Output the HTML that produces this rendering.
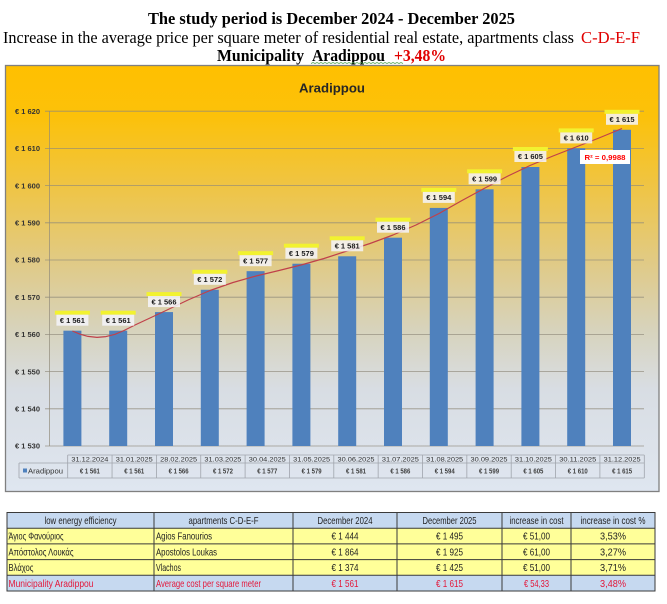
<!DOCTYPE html>
<html><head><meta charset="utf-8"><style>html,body{margin:0;padding:0;background:#fff}svg{display:block}</style></head>
<body>
<svg xmlns="http://www.w3.org/2000/svg" width="667" height="604" viewBox="0 0 667 604">
<defs>
<linearGradient id="bg" x1="0" y1="0" x2="0" y2="1">
<stop offset="0" stop-color="#FFC000"/>
<stop offset="0.12" stop-color="#FCC10A"/>
<stop offset="0.30" stop-color="#EEC54A"/>
<stop offset="0.48" stop-color="#DFCB8C"/>
<stop offset="0.62" stop-color="#D7D3BC"/>
<stop offset="0.76" stop-color="#D8DDE3"/>
<stop offset="1" stop-color="#DFE6F0"/>
</linearGradient>
</defs>
<rect width="667" height="604" fill="#fff"/>

<!-- Titles -->
<g font-family="'Liberation Serif', serif">
<text x="148" y="24" font-size="16.5" font-weight="bold" fill="#000" textLength="367" lengthAdjust="spacingAndGlyphs">The study period is December 2024 - December 2025</text>
<text x="3" y="43" font-size="17" fill="#000" textLength="571" lengthAdjust="spacingAndGlyphs">Increase in the average price per square meter of residential real estate, apartments class</text>
<text x="581" y="43" font-size="17" fill="#e00000" textLength="59" lengthAdjust="spacingAndGlyphs">C-D-E-F</text>
<text x="217" y="61" font-size="16.5" font-weight="bold" fill="#000" textLength="87" lengthAdjust="spacingAndGlyphs">Municipality</text>
<text x="312" y="61" font-size="16.5" font-weight="bold" fill="#000" textLength="73" lengthAdjust="spacingAndGlyphs">Aradippou</text>
<text x="394" y="61" font-size="16.5" font-weight="bold" fill="#e00000" textLength="52" lengthAdjust="spacingAndGlyphs">+3,48%</text>
</g>
<polyline points="311,63.5 313,62.5 315,63.5 317,62.5 319,63.5 321,62.5 323,63.5 325,62.5 327,63.5 329,62.5 331,63.5 333,62.5 335,63.5 337,62.5 339,63.5 341,62.5 343,63.5 345,62.5 347,63.5 349,62.5 351,63.5 353,62.5 355,63.5 357,62.5 359,63.5 361,62.5 363,63.5 365,62.5 367,63.5 369,62.5 371,63.5 373,62.5 375,63.5 377,62.5 379,63.5 381,62.5 383,63.5 385,62.5 387,63.5 389,62.5 391,63.5 393,62.5 395,63.5 397,62.5 399,63.5 401,62.5 403,63.5" fill="none" stroke="#4aa04a" stroke-width="0.7"/>

<!-- Chart frame -->
<rect x="5.5" y="65.5" width="653.5" height="426" fill="url(#bg)" stroke="#808080" stroke-width="1.3"/>
<text x="332" y="92.5" font-family="'Liberation Sans', sans-serif" font-size="13" font-weight="bold" fill="#262626" text-anchor="middle" textLength="66" lengthAdjust="spacingAndGlyphs">Aradippou</text>

<!-- Gridlines -->
<g stroke="#8f8a7a" stroke-width="0.8" stroke-opacity="0.85">
<line x1="45" y1="446" x2="644" y2="446"/>
<line x1="45" y1="408.8" x2="644" y2="408.8"/>
<line x1="45" y1="371.6" x2="644" y2="371.6"/>
<line x1="45" y1="334.4" x2="644" y2="334.4"/>
<line x1="45" y1="297.2" x2="644" y2="297.2"/>
<line x1="45" y1="260" x2="644" y2="260"/>
<line x1="45" y1="222.8" x2="644" y2="222.8"/>
<line x1="45" y1="185.6" x2="644" y2="185.6"/>
<line x1="45" y1="148.4" x2="644" y2="148.4"/>
<line x1="45" y1="111.2" x2="644" y2="111.2"/>
<line x1="49.5" y1="111.2" x2="49.5" y2="446"/>
</g>

<!-- Y labels -->
<g font-family="'Liberation Sans', sans-serif" font-size="7.5" font-weight="bold" fill="#333" text-anchor="end">
<text x="40" y="448.7" textLength="25" lengthAdjust="spacingAndGlyphs">€ 1 530</text>
<text x="40" y="411.5" textLength="25" lengthAdjust="spacingAndGlyphs">€ 1 540</text>
<text x="40" y="374.3" textLength="25" lengthAdjust="spacingAndGlyphs">€ 1 550</text>
<text x="40" y="337.1" textLength="25" lengthAdjust="spacingAndGlyphs">€ 1 560</text>
<text x="40" y="299.9" textLength="25" lengthAdjust="spacingAndGlyphs">€ 1 570</text>
<text x="40" y="262.7" textLength="25" lengthAdjust="spacingAndGlyphs">€ 1 580</text>
<text x="40" y="225.5" textLength="25" lengthAdjust="spacingAndGlyphs">€ 1 590</text>
<text x="40" y="188.3" textLength="25" lengthAdjust="spacingAndGlyphs">€ 1 600</text>
<text x="40" y="151.1" textLength="25" lengthAdjust="spacingAndGlyphs">€ 1 610</text>
<text x="40" y="113.9" textLength="25" lengthAdjust="spacingAndGlyphs">€ 1 620</text>
</g>

<!-- Bars -->
<g fill="#4F81BD">
<rect x="63.4" y="330.68" width="18" height="115.32"/>
<rect x="109.2" y="330.68" width="18" height="115.32"/>
<rect x="155.0" y="312.08" width="18" height="133.92"/>
<rect x="200.8" y="289.76" width="18" height="156.24"/>
<rect x="246.6" y="271.16" width="18" height="174.84"/>
<rect x="292.4" y="263.72" width="18" height="182.28"/>
<rect x="338.2" y="256.28" width="18" height="189.72"/>
<rect x="384.0" y="237.68" width="18" height="208.32"/>
<rect x="429.8" y="207.92" width="18" height="238.08"/>
<rect x="475.6" y="189.32" width="18" height="256.68"/>
<rect x="521.4" y="167" width="18" height="279"/>
<rect x="567.2" y="148.4" width="18" height="297.6"/>
<rect x="613.0" y="129.8" width="18" height="316.2"/>
</g>

<!-- Trendline -->
<polyline fill="none" stroke="#c0404a" stroke-width="1.2" stroke-linejoin="round" points="72.4,331 80,334.2 88,336.4 97,337.4 106,336.6 115,334.3 124,330.5 135,325 150,318 166,310.5 188,300 210,290.5 233,282.5 256,276 279,270.5 301,265 324,258.5 347,251 370,243.5 393,235 416,225 439,213.5 462,200.5 485,188 508,176 530,165.5 553,156 576,147 599,138 622,128.5"/>

<!-- Data labels -->
<g>
<g fill="#f2f230">
<rect x="54.9" y="310.7" width="35" height="4"/>
<rect x="100.7" y="310.7" width="35" height="4"/>
<rect x="146.5" y="292.1" width="35" height="4"/>
<rect x="192.3" y="269.8" width="35" height="4"/>
<rect x="238.1" y="251.2" width="35" height="4"/>
<rect x="283.9" y="243.7" width="35" height="4"/>
<rect x="329.7" y="236.3" width="35" height="4"/>
<rect x="375.5" y="217.7" width="35" height="4"/>
<rect x="421.3" y="187.9" width="35" height="4"/>
<rect x="467.1" y="169.3" width="35" height="4"/>
<rect x="512.9" y="147" width="35" height="4"/>
<rect x="558.7" y="128.4" width="35" height="4"/>
<rect x="604.5" y="109.8" width="35" height="4"/>
</g>
<g fill="#f4f5fa" fill-opacity="0.85">
<rect x="56.4" y="314.7" width="32" height="11"/>
<rect x="102.2" y="314.7" width="32" height="11"/>
<rect x="148.0" y="296.1" width="32" height="11"/>
<rect x="193.8" y="273.8" width="32" height="11"/>
<rect x="239.6" y="255.2" width="32" height="11"/>
<rect x="285.4" y="247.7" width="32" height="11"/>
<rect x="331.2" y="240.3" width="32" height="11"/>
<rect x="377.0" y="221.7" width="32" height="11"/>
<rect x="422.8" y="191.9" width="32" height="11"/>
<rect x="468.6" y="173.3" width="32" height="11"/>
<rect x="514.4" y="151" width="32" height="11"/>
<rect x="560.2" y="132.4" width="32" height="11"/>
<rect x="606.0" y="113.8" width="32" height="11"/>
</g>
<g font-family="'Liberation Sans', sans-serif" font-size="7.5" font-weight="bold" fill="#1a1a1a" text-anchor="middle">
<text x="72.4" y="322.9" textLength="25" lengthAdjust="spacingAndGlyphs">€ 1 561</text>
<text x="118.2" y="322.9" textLength="25" lengthAdjust="spacingAndGlyphs">€ 1 561</text>
<text x="164.0" y="304.3" textLength="25" lengthAdjust="spacingAndGlyphs">€ 1 566</text>
<text x="209.8" y="282.0" textLength="25" lengthAdjust="spacingAndGlyphs">€ 1 572</text>
<text x="255.6" y="263.4" textLength="25" lengthAdjust="spacingAndGlyphs">€ 1 577</text>
<text x="301.4" y="255.9" textLength="25" lengthAdjust="spacingAndGlyphs">€ 1 579</text>
<text x="347.2" y="248.5" textLength="25" lengthAdjust="spacingAndGlyphs">€ 1 581</text>
<text x="393.0" y="229.9" textLength="25" lengthAdjust="spacingAndGlyphs">€ 1 586</text>
<text x="438.8" y="200.1" textLength="25" lengthAdjust="spacingAndGlyphs">€ 1 594</text>
<text x="484.6" y="181.5" textLength="25" lengthAdjust="spacingAndGlyphs">€ 1 599</text>
<text x="530.4" y="159.2" textLength="25" lengthAdjust="spacingAndGlyphs">€ 1 605</text>
<text x="576.2" y="140.6" textLength="25" lengthAdjust="spacingAndGlyphs">€ 1 610</text>
<text x="622.0" y="122.0" textLength="25" lengthAdjust="spacingAndGlyphs">€ 1 615</text>
</g>
</g>

<!-- R2 box -->
<rect x="580" y="150" width="50" height="14" fill="#ffffff"/>
<text x="605" y="160" font-family="'Liberation Sans', sans-serif" font-size="7.5" font-weight="bold" fill="#ff0000" text-anchor="middle" textLength="41" lengthAdjust="spacingAndGlyphs">R² = 0,9988</text>

<!-- Chart data table -->
<g stroke="#a0a4ac" stroke-width="0.8" fill="none">
<line x1="67.7" y1="455" x2="644.3" y2="455"/>
<line x1="19" y1="463" x2="644.3" y2="463"/>
<line x1="19" y1="478" x2="644.3" y2="478"/>
<line x1="19" y1="463" x2="19" y2="478"/>
<line x1="67.7" y1="455" x2="67.7" y2="478"/>
<line x1="112.05" y1="455" x2="112.05" y2="478"/>
<line x1="156.4" y1="455" x2="156.4" y2="478"/>
<line x1="200.75" y1="455" x2="200.75" y2="478"/>
<line x1="245.1" y1="455" x2="245.1" y2="478"/>
<line x1="289.45" y1="455" x2="289.45" y2="478"/>
<line x1="333.8" y1="455" x2="333.8" y2="478"/>
<line x1="378.15" y1="455" x2="378.15" y2="478"/>
<line x1="422.5" y1="455" x2="422.5" y2="478"/>
<line x1="466.85" y1="455" x2="466.85" y2="478"/>
<line x1="511.2" y1="455" x2="511.2" y2="478"/>
<line x1="555.55" y1="455" x2="555.55" y2="478"/>
<line x1="599.9" y1="455" x2="599.9" y2="478"/>
<line x1="644.3" y1="455" x2="644.3" y2="478"/>
</g>
<rect x="23" y="468.5" width="4" height="4" fill="#4F81BD"/>
<text x="28" y="473.5" font-family="'Liberation Sans', sans-serif" font-size="7.5" fill="#333" textLength="35" lengthAdjust="spacingAndGlyphs">Aradippou</text>
<g font-family="'Liberation Sans', sans-serif" font-size="6.8" fill="#333" text-anchor="middle">
<text x="89.9" y="461.6" textLength="37" lengthAdjust="spacingAndGlyphs">31.12.2024</text>
<text x="134.25" y="461.6" textLength="37" lengthAdjust="spacingAndGlyphs">31.01.2025</text>
<text x="178.6" y="461.6" textLength="37" lengthAdjust="spacingAndGlyphs">28.02.2025</text>
<text x="222.95" y="461.6" textLength="37" lengthAdjust="spacingAndGlyphs">31.03.2025</text>
<text x="267.3" y="461.6" textLength="37" lengthAdjust="spacingAndGlyphs">30.04.2025</text>
<text x="311.65" y="461.6" textLength="37" lengthAdjust="spacingAndGlyphs">31.05.2025</text>
<text x="356.0" y="461.6" textLength="37" lengthAdjust="spacingAndGlyphs">30.06.2025</text>
<text x="400.35" y="461.6" textLength="37" lengthAdjust="spacingAndGlyphs">31.07.2025</text>
<text x="444.7" y="461.6" textLength="37" lengthAdjust="spacingAndGlyphs">31.08.2025</text>
<text x="489.05" y="461.6" textLength="37" lengthAdjust="spacingAndGlyphs">30.09.2025</text>
<text x="533.4" y="461.6" textLength="37" lengthAdjust="spacingAndGlyphs">31.10.2025</text>
<text x="577.75" y="461.6" textLength="37" lengthAdjust="spacingAndGlyphs">30.11.2025</text>
<text x="622.1" y="461.6" textLength="37" lengthAdjust="spacingAndGlyphs">31.12.2025</text>
</g>
<g font-family="'Liberation Sans', sans-serif" font-size="7.5" font-weight="bold" fill="#404040" text-anchor="middle">
<text x="89.9" y="473.6" textLength="20" lengthAdjust="spacingAndGlyphs">€ 1 561</text>
<text x="134.25" y="473.6" textLength="20" lengthAdjust="spacingAndGlyphs">€ 1 561</text>
<text x="178.6" y="473.6" textLength="20" lengthAdjust="spacingAndGlyphs">€ 1 566</text>
<text x="222.95" y="473.6" textLength="20" lengthAdjust="spacingAndGlyphs">€ 1 572</text>
<text x="267.3" y="473.6" textLength="20" lengthAdjust="spacingAndGlyphs">€ 1 577</text>
<text x="311.65" y="473.6" textLength="20" lengthAdjust="spacingAndGlyphs">€ 1 579</text>
<text x="356.0" y="473.6" textLength="20" lengthAdjust="spacingAndGlyphs">€ 1 581</text>
<text x="400.35" y="473.6" textLength="20" lengthAdjust="spacingAndGlyphs">€ 1 586</text>
<text x="444.7" y="473.6" textLength="20" lengthAdjust="spacingAndGlyphs">€ 1 594</text>
<text x="489.05" y="473.6" textLength="20" lengthAdjust="spacingAndGlyphs">€ 1 599</text>
<text x="533.4" y="473.6" textLength="20" lengthAdjust="spacingAndGlyphs">€ 1 605</text>
<text x="577.75" y="473.6" textLength="20" lengthAdjust="spacingAndGlyphs">€ 1 610</text>
<text x="622.1" y="473.6" textLength="20" lengthAdjust="spacingAndGlyphs">€ 1 615</text>
</g>

<!-- Bottom table -->
<rect x="7" y="512.5" width="648" height="15.7" fill="#C6D9F0"/>
<rect x="7" y="528.2" width="648" height="47.1" fill="#FFFF99"/>
<rect x="7" y="575.3" width="648" height="15.7" fill="#C6D9F0"/>
<g stroke="#3a3a3a" stroke-width="1" fill="none">
<rect x="7" y="512.5" width="648" height="78.5"/>
<line x1="7" y1="528.2" x2="655" y2="528.2"/>
<line x1="7" y1="543.9" x2="655" y2="543.9"/>
<line x1="7" y1="559.6" x2="655" y2="559.6"/>
<line x1="7" y1="575.3" x2="655" y2="575.3"/>
<line x1="154" y1="512.5" x2="154" y2="591"/>
<line x1="293" y1="512.5" x2="293" y2="591"/>
<line x1="397" y1="512.5" x2="397" y2="591"/>
<line x1="502" y1="512.5" x2="502" y2="591"/>
<line x1="571" y1="512.5" x2="571" y2="591"/>
</g>
<g font-family="'Liberation Sans Narrow', 'Liberation Sans', sans-serif" font-size="10.5" fill="#222">
<text x="80.5" y="524" text-anchor="middle" textLength="72" lengthAdjust="spacingAndGlyphs">low energy efficiency</text>
<text x="223.5" y="524" text-anchor="middle" textLength="70" lengthAdjust="spacingAndGlyphs">apartments C-D-E-F</text>
<text x="345" y="524" text-anchor="middle" textLength="55" lengthAdjust="spacingAndGlyphs">December 2024</text>
<text x="449.5" y="524" text-anchor="middle" textLength="54" lengthAdjust="spacingAndGlyphs">December 2025</text>
<text x="536.5" y="524" text-anchor="middle" textLength="54" lengthAdjust="spacingAndGlyphs">increase in cost</text>
<text x="613" y="524" text-anchor="middle" textLength="65" lengthAdjust="spacingAndGlyphs">increase in cost %</text>

<text x="8.5" y="539.7" textLength="55" lengthAdjust="spacingAndGlyphs">Άγιος Φανούριος</text>
<text x="156" y="539.7" textLength="56" lengthAdjust="spacingAndGlyphs">Agios Fanourios</text>
<text x="345" y="539.7" text-anchor="middle" textLength="27" lengthAdjust="spacingAndGlyphs">€ 1 444</text>
<text x="449.5" y="539.7" text-anchor="middle" textLength="27" lengthAdjust="spacingAndGlyphs">€ 1 495</text>
<text x="536.5" y="539.7" text-anchor="middle" textLength="27" lengthAdjust="spacingAndGlyphs">€ 51,00</text>
<text x="613" y="539.7" text-anchor="middle" textLength="26" lengthAdjust="spacingAndGlyphs">3,53%</text>

<text x="8.5" y="555.4" textLength="65" lengthAdjust="spacingAndGlyphs">Απόστολος Λουκάς</text>
<text x="156" y="555.4" textLength="61" lengthAdjust="spacingAndGlyphs">Apostolos Loukas</text>
<text x="345" y="555.4" text-anchor="middle" textLength="27" lengthAdjust="spacingAndGlyphs">€ 1 864</text>
<text x="449.5" y="555.4" text-anchor="middle" textLength="27" lengthAdjust="spacingAndGlyphs">€ 1 925</text>
<text x="536.5" y="555.4" text-anchor="middle" textLength="27" lengthAdjust="spacingAndGlyphs">€ 61,00</text>
<text x="613" y="555.4" text-anchor="middle" textLength="26" lengthAdjust="spacingAndGlyphs">3,27%</text>

<text x="8.5" y="571.1" textLength="25" lengthAdjust="spacingAndGlyphs">Βλάχος</text>
<text x="156" y="571.1" textLength="25" lengthAdjust="spacingAndGlyphs">Vlachos</text>
<text x="345" y="571.1" text-anchor="middle" textLength="27" lengthAdjust="spacingAndGlyphs">€ 1 374</text>
<text x="449.5" y="571.1" text-anchor="middle" textLength="27" lengthAdjust="spacingAndGlyphs">€ 1 425</text>
<text x="536.5" y="571.1" text-anchor="middle" textLength="27" lengthAdjust="spacingAndGlyphs">€ 51,00</text>
<text x="613" y="571.1" text-anchor="middle" textLength="26" lengthAdjust="spacingAndGlyphs">3,71%</text>
</g>
<g font-family="'Liberation Sans Narrow', 'Liberation Sans', sans-serif" font-size="10.5" fill="#e3173a">
<text x="8.5" y="586.8" textLength="85" lengthAdjust="spacingAndGlyphs">Municipality Aradippou</text>
<text x="156" y="586.8" textLength="105" lengthAdjust="spacingAndGlyphs">Average cost per square meter</text>
<text x="345" y="586.8" text-anchor="middle" textLength="27" lengthAdjust="spacingAndGlyphs">€ 1 561</text>
<text x="449.5" y="586.8" text-anchor="middle" textLength="27" lengthAdjust="spacingAndGlyphs">€ 1 615</text>
<text x="536.5" y="586.8" text-anchor="middle" textLength="25" lengthAdjust="spacingAndGlyphs">€ 54,33</text>
<text x="613" y="586.8" text-anchor="middle" textLength="26" lengthAdjust="spacingAndGlyphs">3,48%</text>
</g>
</svg>
</body></html>
